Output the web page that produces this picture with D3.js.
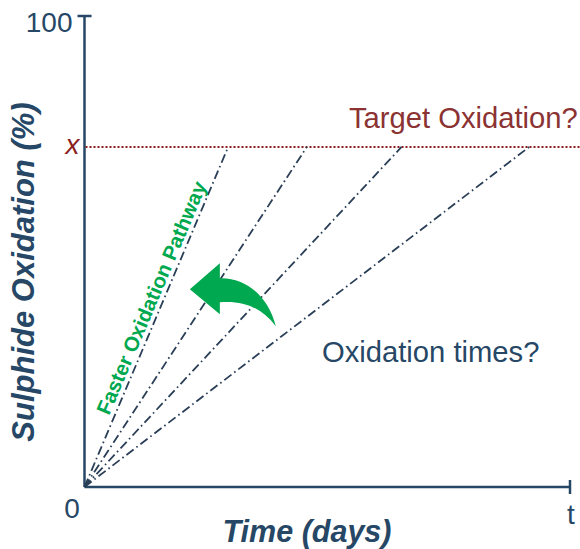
<!DOCTYPE html>
<html>
<head>
<meta charset="utf-8">
<script src="https://cdn.jsdelivr.net/npm/d3@7"></script>
<style>
  html, body { margin: 0; padding: 0; background: #fff; }
  svg { display: block; }
  text { font-family: "Liberation Sans", Arial, sans-serif; }
</style>
</head>
<body>
<div id="chart"></div>
<script>
// ---- data ----
const yTickLabels = ["0", "100"];
const xTickLabels = ["0", "t"];
const yDomain = [0, 100];
const xDomain = [0, 100];
const targetLevel = 72.2;                 // "x" target oxidation (%)
const pathwayEndTimes = [29.6, 45.8, 65.3, 91.6]; // time at which each pathway reaches target
const labels = {
  target: "Target Oxidation?",
  times: "Oxidation times?",
  faster: "Faster Oxidation Pathway",
  yTitle: "Sulphide Oxidation (%)",
  xTitle: "Time (days)",
  xMark: "x"
};

// ---- layout ----
const W = 580, H = 549;
const axisColor = "#264766";
const lineColor = "#2a3f57";
const red = "#8b1f1f";
const green = "#00a84f";

const svg = d3.select("#chart").append("svg").attr("width", W).attr("height", H);

const x = d3.scaleLinear().domain(xDomain).range([84.5, 570]);
const y = d3.scaleLinear().domain(yDomain).range([487, 16]);

// axes
svg.append("line").attr("x1", x(0)).attr("x2", x(0)).attr("y1", y(0)).attr("y2", y(100))
  .attr("stroke", axisColor).attr("stroke-width", 2.5);
svg.append("line").attr("x1", x(0)).attr("x2", x(100)).attr("y1", y(0)).attr("y2", y(0))
  .attr("stroke", axisColor).attr("stroke-width", 2.5);
// end ticks
svg.append("line").attr("x1", x(0) - 7).attr("x2", x(0) + 7).attr("y1", y(100)).attr("y2", y(100))
  .attr("stroke", axisColor).attr("stroke-width", 2.5);
svg.append("line").attr("x1", x(100)).attr("x2", x(100)).attr("y1", y(0) - 7).attr("y2", y(0) + 7)
  .attr("stroke", axisColor).attr("stroke-width", 2.5);

// tick labels
svg.append("text").attr("x", x(0) - 12).attr("y", y(100) + 16).attr("text-anchor", "end")
  .attr("font-size", 28).attr("fill", axisColor).text(yTickLabels[1]);
svg.append("text").attr("x", x(0) - 12.5).attr("y", y(0) + 31).attr("text-anchor", "middle")
  .attr("font-size", 28).attr("fill", axisColor).text(xTickLabels[0]);
svg.append("text").attr("x", x(100) + 1).attr("y", y(0) + 37).attr("text-anchor", "middle")
  .attr("font-size", 28).attr("fill", axisColor).text(xTickLabels[1]);

// target line
svg.append("line").attr("x1", x(0) + 1).attr("x2", W).attr("y1", y(targetLevel)).attr("y2", y(targetLevel))
  .attr("stroke", red).attr("stroke-width", 2).attr("stroke-dasharray", "2,2");
svg.append("text").attr("x", x(0) - 5).attr("y", y(targetLevel) + 7.5).attr("text-anchor", "end")
  .attr("font-size", 28).attr("font-style", "italic").attr("fill", red).text(labels.xMark);

// pathways
const lineGen = d3.line().x(d => x(d[0])).y(d => y(d[1]));
svg.selectAll("path.pathway").data(pathwayEndTimes).enter().append("path")
  .attr("class", "pathway")
  .attr("d", t => lineGen([[0, 0], [t, targetLevel]]))
  .attr("fill", "none").attr("stroke", lineColor).attr("stroke-width", 1.8)
  .attr("stroke-dasharray", "9,3.5,1.6,3.5");

// texts
svg.append("text").attr("x", 349).attr("y", 128).attr("font-size", 29.2)
  .attr("fill", "#8b3232").text(labels.target);
svg.append("text").attr("x", 322).attr("y", 362).attr("font-size", 29.2)
  .attr("fill", axisColor).text(labels.times);

svg.append("text").attr("x", 307).attr("y", 542).attr("text-anchor", "middle")
  .attr("font-size", 30.5).attr("font-weight", "bold").attr("font-style", "italic")
  .attr("fill", axisColor).text(labels.xTitle);

svg.append("text").attr("transform", "translate(34,272) rotate(-90)").attr("text-anchor", "middle")
  .attr("font-size", 31).attr("font-weight", "bold").attr("font-style", "italic")
  .attr("fill", axisColor).text(labels.yTitle);

// green rotated label
svg.append("text").attr("transform", "translate(109,416) rotate(-67)")
  .attr("font-size", 20.5).attr("font-weight", "bold").attr("fill", green).text(labels.faster);

// green curved arrow (anchored on scale coordinates)
const ax = x(21.7), ay = y(42);
const p = d3.path();
p.moveTo(ax, ay);
p.lineTo(ax + 30, ay - 26);
p.lineTo(ax + 30, ay - 11);
p.bezierCurveTo(ax + 55, ay - 12, ax + 78, ay + 6, ax + 86, ay + 37);
p.bezierCurveTo(ax + 72, ay + 19, ax + 55, ay + 11, ax + 30, ay + 13);
p.lineTo(ax + 30, ay + 25);
p.closePath();
svg.append("path").attr("d", p.toString()).attr("fill", green);
</script>
</body>
</html>
